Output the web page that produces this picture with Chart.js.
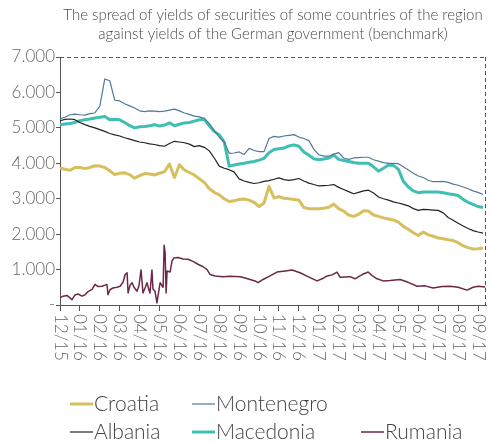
<!DOCTYPE html>
<html>
<head>
<meta charset="utf-8">
<script src="https://cdn.jsdelivr.net/npm/chart.js@4.4.0/dist/chart.umd.min.js"></script>
<style>
  html, body { margin: 0; padding: 0; background: #fff; }
</style>
</head>
<body>
<canvas id="spreadChart" width="492" height="441"></canvas>
<script>
// month labels on the x axis (one per month, 12/15 .. 09/17)
const monthLabels = ['12/15','01/16','02/16','03/16','04/16','05/16','06/16','07/16','08/16','09/16','10/16',
  '11/16','12/16','01/17','02/17','03/17','04/17','05/17','06/17','07/17','08/17','09/17'];
const yLabels = ['-','1.000','2.000','3.000','4.000','5.000','6.000','7.000'];

// series sampled every quarter of a month, starting 12/15
const step = 0.25;
const croatia = [3870,3830,3800,3880,3880,3850,3880,3930,3920,3880,
  3790,3680,3720,3730,3680,3580,3650,3710,3700,3670,
  3720,3760,3980,3600,3960,3810,3740,3670,3560,3460,
  3280,3180,3110,3000,2920,2940,2980,2990,2960,2900,
  2780,2880,3350,3020,3060,3010,3000,2980,2960,2750,
  2720,2720,2720,2730,2760,2850,2720,2650,2540,2500,
  2560,2660,2650,2540,2500,2460,2430,2400,2340,2220,
  2140,2040,1960,2060,1980,1940,1890,1870,1840,1820,
  1760,1670,1620,1580,1590,1610];
const montenegro = [5250,5300,5370,5390,5370,5360,5400,5420,5610,6380,
  6330,5780,5760,5680,5620,5560,5480,5460,5480,5470,
  5460,5470,5500,5530,5480,5420,5380,5330,5310,5270,
  5120,4920,4740,4600,4280,4290,4320,4250,4420,4360,
  4330,4330,4700,4760,4740,4770,4790,4810,4740,4700,
  4640,4400,4240,4200,4200,4260,4300,4150,4110,4150,
  4160,4170,4170,4100,4060,4020,4000,4000,3990,3900,
  3810,3720,3640,3600,3520,3480,3480,3490,3460,3410,
  3380,3330,3280,3220,3180,3120];
const albania = [5200,5240,5250,5230,5150,5090,5040,5000,4950,4900,
  4840,4800,4770,4720,4680,4640,4600,4580,4550,4530,
  4500,4480,4560,4620,4600,4580,4540,4470,4500,4450,
  4350,4150,3920,3860,3820,3750,3560,3500,3460,3430,
  3450,3490,3510,3550,3590,3540,3520,3540,3570,3500,
  3440,3400,3360,3370,3380,3400,3320,3260,3200,3140,
  3180,3220,3240,3160,3050,3000,2960,2910,2880,2840,
  2800,2720,2670,2700,2690,2680,2670,2600,2470,2390,
  2310,2230,2160,2100,2060,2030];
const macedonia = [5090,5110,5120,5160,5200,5230,5250,5280,5300,5320,
  5230,5240,5230,5150,5060,5000,5030,5040,5060,5090,
  5050,5080,5140,5060,5100,5140,5150,5190,5230,5240,
  5060,4900,4800,4600,3920,3950,3980,4000,4030,4050,
  4090,4140,4300,4390,4410,4430,4490,4520,4480,4320,
  4230,4130,4100,4120,4150,4230,4110,4080,4050,4020,
  4000,4000,4000,3900,3780,3860,3950,3940,3830,3490,
  3330,3220,3170,3190,3190,3190,3190,3170,3140,3120,
  3090,2980,2900,2840,2780,2750];

// Rumania is spiky in spring 2016, so it keeps its own (months since 12/15) points
const rumMonths = [0.00,0.15,0.35,0.60,0.75,0.90,1.11,1.26,1.41,1.61,1.76,1.91,2.11,2.26,2.36,2.41,2.51,2.66,2.86,
  3.02,3.17,3.27,3.37,3.42,3.52,3.62,3.72,3.87,3.97,4.07,4.17,4.27,4.37,4.47,4.52,4.62,4.67,4.77,4.87,4.97,
  5.03,5.13,5.18,5.23,5.28,5.33,5.38,5.53,5.63,5.73,5.93,6.18,6.43,6.68,6.93,7.19,7.39,7.54,7.79,8.19,8.54,
  9.05,9.30,9.55,9.80,9.95,10.20,10.55,10.90,11.31,11.66,12.06,12.46,12.91,13.17,13.42,13.67,13.92,14.07,
  14.32,14.57,14.82,15.18,15.48,15.68,15.93,16.23,16.58,17.09,17.49,17.94,18.34,18.74,19.20,19.60,20.00,
  20.45,20.75,21.01,21.36];
const rumania = [200,250,270,150,280,310,250,290,380,440,580,520,530,560,580,290,430,480,500,
  530,650,860,910,340,560,630,500,390,550,990,340,480,630,420,340,990,450,390,60,420,
  630,540,500,1690,1480,340,960,930,1250,1330,1340,1300,1290,1230,1150,1080,1000,860,820,800,810,
  800,760,720,680,630,720,820,930,960,990,910,800,680,740,820,850,930,780,
  790,800,740,860,930,830,740,680,690,720,640,530,540,480,520,530,500,
  420,500,530,510];

const toPoints = arr => arr.map((v, k) => ({x: k * step, y: v}));

const data = {
  datasets: [
    {label: 'Croatia', data: toPoints(croatia), borderColor: '#d6bf5c', borderWidth: 3},
    {label: 'Montenegro', data: toPoints(montenegro), borderColor: '#52799a', borderWidth: 1.2},
    {label: 'Albania', data: toPoints(albania), borderColor: '#222222', borderWidth: 1.2},
    {label: 'Macedonia', data: toPoints(macedonia), borderColor: '#3dbfb2', borderWidth: 3},
    {label: 'Rumania', data: rumMonths.map((m, i) => ({x: m, y: rumania[i]})), borderColor: '#6b2847', borderWidth: 1.5}
  ]
};

const FONT = 'Lato, "Open Sans", sans-serif';

// title, top/right dashed frame, rotated month labels and the two-row legend
const decorations = {
  id: 'decorations',
  beforeDatasetsDraw(chart) {
    const {ctx, chartArea: a} = chart;
    ctx.save();
    ctx.strokeStyle = '#555';
    ctx.lineWidth = 1;
    ctx.setLineDash([4, 3]);
    ctx.beginPath();
    ctx.moveTo(a.left, a.top + 0.5);
    ctx.lineTo(a.right, a.top + 0.5);
    ctx.moveTo(a.right - 0.5, a.top);
    ctx.lineTo(a.right - 0.5, a.bottom);
    ctx.stroke();
    ctx.restore();
  },
  afterDraw(chart) {
    const {ctx, chartArea: a} = chart;
    const xs = chart.scales.x;
    ctx.save();
    // title
    ctx.fillStyle = '#4a4a4a';
    ctx.font = '300 15px ' + FONT;
    ctx.textAlign = 'center';
    ctx.textBaseline = 'middle';
    const cx = (a.left + a.right) / 2;
    ctx.fillText('The spread of yields of securities of some countries of the region', cx, 15);
    ctx.fillText('against yields of the German government (benchmark)', cx, 34);

    // x labels, reading top to bottom
    ctx.fillStyle = '#666';
    ctx.font = '300 17px ' + FONT;
    ctx.textAlign = 'left';
    monthLabels.forEach((lab, i) => {
      ctx.save();
      ctx.translate(xs.getPixelForValue(i), a.bottom + 9);
      ctx.rotate(Math.PI / 2);
      ctx.fillText(lab, 0, 0);
      ctx.restore();
    });

    // legend
    const slots = [[0, 0], [1, 0], [0, 1], [1, 1], [2, 1]];
    const colX = [70, 192, 361];
    const rowY = [404, 432];
    ctx.font = '300 21px ' + FONT;
    ctx.fillStyle = '#444';
    chart.data.datasets.forEach((ds, i) => {
      const x = colX[slots[i][0]], y = rowY[slots[i][1]];
      ctx.strokeStyle = ds.borderColor;
      ctx.lineWidth = ds.borderWidth;
      ctx.beginPath();
      ctx.moveTo(x, y);
      ctx.lineTo(x + 23, y);
      ctx.stroke();
      ctx.fillText(ds.label, x + 24, y);
    });
    ctx.restore();
  }
};

const config = {
  type: 'line',
  data: data,
  options: {
    responsive: false,
    animation: false,
    layout: {padding: {top: 57, right: 6, left: 0, bottom: 0}},
    elements: {
      point: {radius: 0},
      line: {tension: 0, borderJoinStyle: 'round', fill: false}
    },
    plugins: {
      legend: {display: false},
      title: {display: false},
      tooltip: {enabled: false}
    },
    scales: {
      x: {
        type: 'linear',
        min: 0,
        max: 21.4,
        afterBuildTicks: s => { s.ticks = monthLabels.map((l, i) => ({value: i})); },
        afterFit: s => { s.height = 136; },
        ticks: {display: false},
        grid: {drawOnChartArea: false, drawTicks: true, tickLength: 6, color: '#555'},
        border: {display: true, color: '#555', dash: [4, 3], width: 1}
      },
      y: {
        min: 0,
        max: 7000,
        afterFit: s => { s.width = 60; },
        ticks: {
          stepSize: 1000,
          callback: v => yLabels[Math.round(v / 1000)],
          font: {family: FONT, size: 17, weight: 300},
          color: '#666',
          padding: 1
        },
        grid: {drawOnChartArea: false, tickLength: 4, color: '#555'},
        border: {color: '#555', dash: [4, 3], width: 1}
      }
    }
  },
  plugins: [decorations]
};

var spreadChart = new Chart(document.getElementById('spreadChart'), config);
</script>
</body>
</html>
